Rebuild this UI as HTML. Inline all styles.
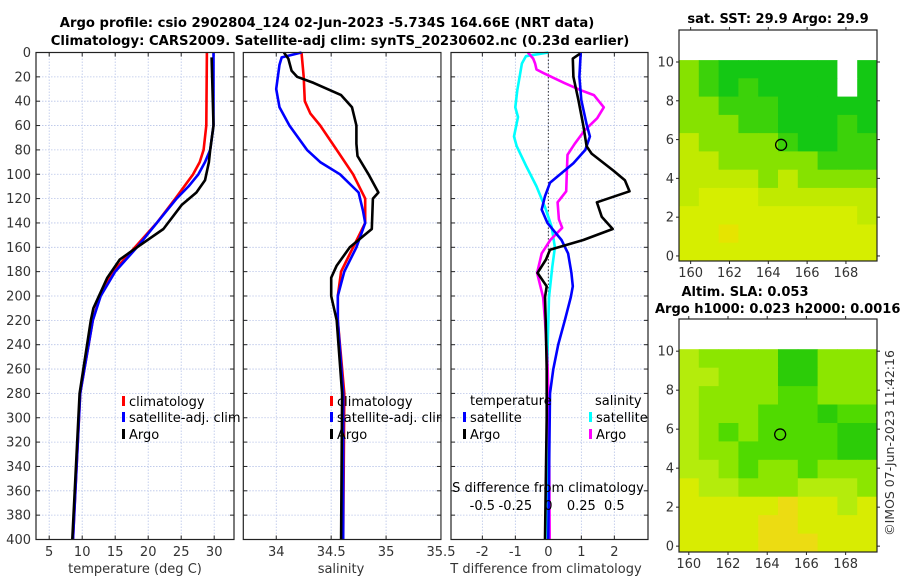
<!DOCTYPE html>
<html><head><meta charset="utf-8"><style>
html,body{margin:0;padding:0;background:#fff;}
svg{display:block;font-family:"DejaVu Sans","Liberation Sans",sans-serif;}
</style></head><body>
<svg id="fig" width="900" height="580" viewBox="0 0 900 580" xmlns="http://www.w3.org/2000/svg">
<text x="327" y="27" font-size="13.2" font-weight="bold" text-anchor="middle" fill="#000">Argo profile: csio 2902804_124 02-Jun-2023 -5.734S 164.66E (NRT data)</text>
<text x="340" y="45" font-size="13.2" font-weight="bold" text-anchor="middle" fill="#000">Climatology: CARS2009. Satellite-adj clim: synTS_20230602.nc (0.23d earlier)</text>
<g id="layer"></g>
</svg>
<script>
// ---- profile data (depth in m) ----
const tClimDepth=[0,60,80,90,100,120,140,160,180,200,220,280,400];
const tClimVal=[28.9,28.8,28.4,27.8,26.8,24.1,21.3,18.0,14.7,12.7,11.6,9.7,8.6];
const tSatDepth=[0,60,80,90,100,110,120,140,160,180,200,220,280,400];
const tSatVal=[29.9,29.9,29.4,28.6,27.6,26.1,24.3,21.3,18.3,15.0,12.8,11.6,9.7,8.6];
const tArgoDepth=[4,60,80,90,105,115,125,145,160,170,185,210,220,280,400];
const tArgoVal=[29.6,29.9,29.4,29.2,28.6,27.3,25.1,22.3,18.3,15.7,13.8,11.7,11.3,9.6,8.5];

const sClimDepth=[0,20,40,50,60,80,100,120,140,160,180,200,220,280,400];
const sClimVal=[34.23,34.25,34.26,34.31,34.40,34.55,34.70,34.81,34.81,34.70,34.59,34.56,34.56,34.62,34.61];
const sSatDepth=[0,4,10,30,45,60,80,90,100,115,130,140,160,180,200,220,280,400];
const sSatVal=[34.23,34.05,34.03,34.00,34.03,34.12,34.28,34.40,34.58,34.75,34.79,34.81,34.73,34.62,34.56,34.56,34.61,34.61];
const sArgoDepth=[0,5,15,20,25,35,45,60,75,85,100,115,120,145,160,175,185,200,220,280,400];
const sArgoVal=[34.07,34.11,34.14,34.19,34.34,34.59,34.69,34.73,34.73,34.74,34.84,34.93,34.88,34.87,34.67,34.55,34.50,34.50,34.55,34.60,34.59];

const dTSatDepth=[0,20,39,59,69,80,91,107,118,129,140,154,165,181,192,201,220,240,260,280,400];
const dTSatVal=[0.98,0.94,1.0,1.16,1.26,1.12,0.76,0.05,-0.10,-0.2,-0.03,0.40,0.60,0.70,0.74,0.68,0.5,0.3,0.15,0.05,0.0];
const dTArgoDepth=[1,5,20,39,60,77,83,97,105,114,123,135,145,154,162,170,181,192,201,220,260,300,400];
const dTArgoVal=[0.96,0.74,0.76,0.91,1.06,1.16,1.31,1.97,2.32,2.46,1.47,1.62,1.95,1.06,0.05,-0.07,-0.33,-0.05,-0.1,-0.08,-0.05,-0.05,-0.1];
const dSSatDepth=[0,3,9,31,45,53,69,77,94,110,127,143,160,176,201,240,300,400];
const dSSatVal=[0.0,-0.17,-0.20,-0.235,-0.25,-0.23,-0.26,-0.24,-0.165,-0.09,-0.025,0.025,0.05,0.03,0.005,-0.005,-0.01,-0.005];
const dSArgoDepth=[0,5,9,14,17,25,31,35,45,54,64,75,84,99,114,123,137,144,154,165,181,201,220,260,300,400];
const dSArgoVal=[-0.155,-0.115,-0.1,-0.09,-0.035,0.12,0.245,0.345,0.42,0.37,0.275,0.2,0.145,0.14,0.135,0.07,0.08,0.105,0.015,-0.05,-0.085,-0.04,-0.025,-0.005,0.005,0.01];

const depthTicks=[0,20,40,60,80,100,120,140,160,180,200,220,240,260,280,300,320,340,360,380,400];
const tTicks=[5,10,15,20,25,30];
const sTicks=[34,34.5,35,35.5];
const sTickLabels=["34","34.5","35","35.5"];
const dTTicks=[-2,-1,0,1,2];
const dSTicks=[-0.5,-0.25,0,0.25,0.5];

// ---- map data: rows lat 10 -> 0, cols lon 159.5 -> 169.6 ----
const sstRows=["lgGGGGGGWG","lgGgGGGGWG","llgggGGGGG","lllggGGGgG","yllllgGGgg","yylllllggg","yyyylyllll","yYYYyyyyyy","YYYYYYYYYy","YYoYYYYYYY","YYYYYYYYYY"];
const slaRows=["abbbbddbbb","aabbbddbbb","abbbbccbbb","abbbcccdcc","abcbccccdd","abbcccccdd","aabcbbcbbb","yaabbbaaab","yyyyyoyyay","yyyyooyyyy","yyyyoooyyy"];
const mapLonTicks=[160,162,164,166,168];
const mapLatTicks=[0,2,4,6,8,10];
const argoPos=[164.66,5.73];

const NS="http://www.w3.org/2000/svg";
const L=document.getElementById('layer');
const FS=13;
function mk(tag,attrs,parent){const e=document.createElementNS(NS,tag);for(const k in attrs)e.setAttribute(k,attrs[k]);(parent||L).appendChild(e);return e;}
function txt(x,y,s,size,anchor,parent,extra){const e=mk('text',Object.assign({x:x,y:y,'font-size':size,'text-anchor':anchor,fill:'#333'},extra||{}),parent);e.textContent=s;return e;}

const Y0=52.5,Y1=539.5;
function yD(d){return Y0+(d/400)*(Y1-Y0);}
function axis(x0,x1,vmin,vmax){return v=>x0+(v-vmin)/(vmax-vmin)*(x1-x0);}

function panel(name,x0,x1,xs,ticks,labels,showY){
  const g=mk('g',{});
  
  
  for(const t of ticks){const x=xs(t);
    const gl=mk('line',{x1:x,x2:x,y1:Y0,y2:Y1,stroke:'#b8c4e8','stroke-width':0.8,'stroke-dasharray':'1.5,1.5'},g);
    
    mk('line',{x1:x,x2:x,y1:Y1,y2:Y1-4,stroke:'#222'},g);mk('line',{x1:x,x2:x,y1:Y0,y2:Y0+4,stroke:'#222'},g);}
  for(const d of depthTicks){const y=yD(d);
    const gl=mk('line',{x1:x0,x2:x1,y1:y,y2:y,stroke:'#b8c4e8','stroke-width':0.8,'stroke-dasharray':'1.5,1.5'},g);
    
    mk('line',{x1:x0,x2:x0+4,y1:y,y2:y,stroke:'#222'},g);mk('line',{x1:x1-4,x2:x1,y1:y,y2:y,stroke:'#222'},g);
    if(showY){const t=txt(x0-5,y+4.5,String(d),FS,'end',g);}}
  ticks.forEach((t,i)=>{const e=txt(xs(t),556,labels[i],FS,'middle',g);});
  return g;
}
function frame(x0,x1,g){const r=mk('rect',{x:x0,y:Y0,width:x1-x0,height:Y1-Y0,fill:'none',stroke:'#222','stroke-width':1.2},g);}
function series(name,xs,depths,vals,color,g){
  const pts=depths.map((d,i)=>xs(vals[i]).toFixed(1)+','+yD(d).toFixed(1)).join(' ');
  const p=mk('polyline',{points:pts,fill:'none',stroke:color,'stroke-width':2.6,'stroke-linejoin':'round'},g);
  
  
}
function legendEntry(x,y,color,label,g,name){
  const gg=mk('g',{},g);
  
  
  mk('rect',{x:x,y:y-9,width:3,height:10,fill:color},gg);
  txt(x+7,y+1,label,FS,'start',gg,{fill:'#000'});
}

// Panel 1: temperature
const xT=axis(36,234,3,33);
const g1=panel('temperature-panel',36,234,xT,tTicks,tTicks.map(String),true);
series('temperature-climatology-line',xT,tClimDepth,tClimVal,'#ff0000',g1);
series('temperature-satellite-line',xT,tSatDepth,tSatVal,'#0000ff',g1);
series('temperature-argo-line',xT,tArgoDepth,tArgoVal,'#000000',g1);
frame(36,234,g1);
{const t=txt(135,573,'temperature (deg C)',FS,'middle',g1);}

// Panel 2: salinity
const xS=axis(243.3,441,33.7,35.5);
const g2=panel('salinity-panel',243.3,441,xS,sTicks,sTickLabels,false);
series('salinity-climatology-line',xS,sClimDepth,sClimVal,'#ff0000',g2);
series('salinity-satellite-line',xS,sSatDepth,sSatVal,'#0000ff',g2);
series('salinity-argo-line',xS,sArgoDepth,sArgoVal,'#000000',g2);
frame(243.3,441,g2);
{const t=txt(341,573,'salinity',FS,'middle',g2);}
legendEntry(122,405,'#ff0000','climatology',g1,'legend-entry-climatology');
legendEntry(122,421,'#0000ff','satellite-adj. clim',g1,'legend-entry-satellite');
legendEntry(122,438,'#000000','Argo',g1,'legend-entry-argo');
legendEntry(330,405,'#ff0000','climatology',g2,'legend-entry-climatology');
legendEntry(330,421,'#0000ff','satellite-adj. clim',g2,'legend-entry-satellite');
legendEntry(330,438,'#000000','Argo',g2,'legend-entry-argo');

// Panel 3: differences
const xD=axis(451,648,-2.95,3.02);
const xDS=v=>xD(v*4);
{const bg=mk('rect',{x:441.6,y:Y0-2,width:9,height:Y1-Y0+4,fill:'#fff'});}
{const bg=mk('rect',{x:451,y:Y0,width:197,height:Y1-Y0,fill:'#fff'});}
const g3=panel('difference-panel',451,648,xD,dTTicks,dTTicks.map(String),false);
const zl=mk('line',{x1:xD(0),x2:xD(0),y1:Y0,y2:Y1,stroke:'#333','stroke-width':1,'stroke-dasharray':'1.5,2'},g3);

series('salinity-diff-satellite-line',xDS,dSSatDepth,dSSatVal,'#00ffff',g3);
series('salinity-diff-argo-line',xDS,dSArgoDepth,dSArgoVal,'#ff00ff',g3);
series('temperature-diff-satellite-line',xD,dTSatDepth,dTSatVal,'#0000ff',g3);
series('temperature-diff-argo-line',xD,dTArgoDepth,dTArgoVal,'#000000',g3);
frame(451,648,g3);
{const t=txt(546,573,'T difference from climatology',FS,'middle',g3);}
{const t=txt(548,492,'S difference from climatology',FS,'middle',g3,{fill:'#000'});}
dSTicks.forEach(v=>{const t=txt(xDS(v),510,String(v),FS,'middle',g3,{fill:'#000'});});
{const t=txt(470,405,'temperature',FS,'start',g3,{fill:'#000'});}
{const t=txt(595,405,'salinity',FS,'start',g3,{fill:'#000'});}
legendEntry(463,421,'#0000ff','satellite',g3,'legend-entry-t-satellite');
legendEntry(463,438,'#000000','Argo',g3,'legend-entry-t-argo');
legendEntry(589,421,'#00ffff','satellite',g3,'legend-entry-s-satellite');
legendEntry(589,438,'#ff00ff','Argo',g3,'legend-entry-s-argo');

// ---- maps ----
const sstPal={G:'#14c814',g:'#3cd20a',l:'#86e200',y:'#c0ea00',Y:'#d6ee00',o:'#e6e400',W:'#ffffff'};
const slaPal={a:'#b4ec0c',b:'#8ce600',c:'#50da00',d:'#2ccc08',y:'#d8ec02',o:'#ecdc12'};
function drawMap(name,rows,pal,bx0,bx1,by0,by1,lonMin,lonMax,latMin,latMax){
  const g=mk('g',{});
  
  
  const xm=v=>bx0+(v-lonMin)/(lonMax-lonMin)*(bx1-bx0);
  const ym=v=>by1-(v-latMin)/(latMax-latMin)*(by1-by0);
  const dataTop=10.1, dataBot=latMin;
  const nr=rows.length, nc=rows[0].length;
  const ch=(dataTop-dataBot)/nr, cw=(lonMax-lonMin)/nc;
  rows.forEach((row,r)=>{for(let c=0;c<nc;c++){
    const x=xm(lonMin+c*cw), y=ym(dataTop-r*ch);
    const cell=mk('rect',{x:x.toFixed(1),y:y.toFixed(1),width:(xm(lonMin+(c+1)*cw)-x+0.5).toFixed(1),height:(ym(dataTop-(r+1)*ch)-y+0.5).toFixed(1),fill:pal[row[c]]},g);
    
    
  }});
  mapLonTicks.forEach(v=>{const x=xm(v);mk('line',{x1:x,x2:x,y1:by1,y2:by1+3,stroke:'#222'},g);mk('line',{x1:x,x2:x,y1:by0,y2:by0-3,stroke:'#222'},g);
    const t=txt(x,by1+16,String(v),FS,'middle',g);});
  mapLatTicks.forEach(v=>{const y=ym(v);mk('line',{x1:bx0,x2:bx0-3,y1:y,y2:y,stroke:'#222'},g);mk('line',{x1:bx1,x2:bx1+3,y1:y,y2:y,stroke:'#222'},g);
    const t=txt(bx0-5,y+4.5,String(v),FS,'end',g);});
  const c=mk('circle',{cx:xm(argoPos[0]),cy:ym(argoPos[1]),r:5.5,fill:'none',stroke:'#000','stroke-width':1.3},g);
  
  const f=mk('rect',{x:bx0,y:by0,width:bx1-bx0,height:by1-by0,fill:'none',stroke:'#222','stroke-width':1.2},g);
  
}
drawMap('sst-map',sstRows,sstPal,679,877,30,261,159.4,169.6,-0.26,11.65);
drawMap('sla-map',slaRows,slaPal,679,877,319,552,159.5,169.6,-0.3,11.65);
{const t=txt(778,23,'sat. SST: 29.9 Argo: 29.9',13,'middle',L,{fill:'#000','font-weight':'bold'});}
{const t=txt(745,296,'Altim. SLA: 0.053',13,'middle',L,{fill:'#000','font-weight':'bold'});}
{const t=txt(655,313,'Argo h1000: 0.023 h2000: 0.0016',13,'start',L,{fill:'#000','font-weight':'bold'});}
{const t=txt(0,0,'©IMOS 07-Jun-2023 11:42:16',12.5,'middle',L,{transform:'translate(894,443) rotate(-90)'});}
</script>
</body></html>
